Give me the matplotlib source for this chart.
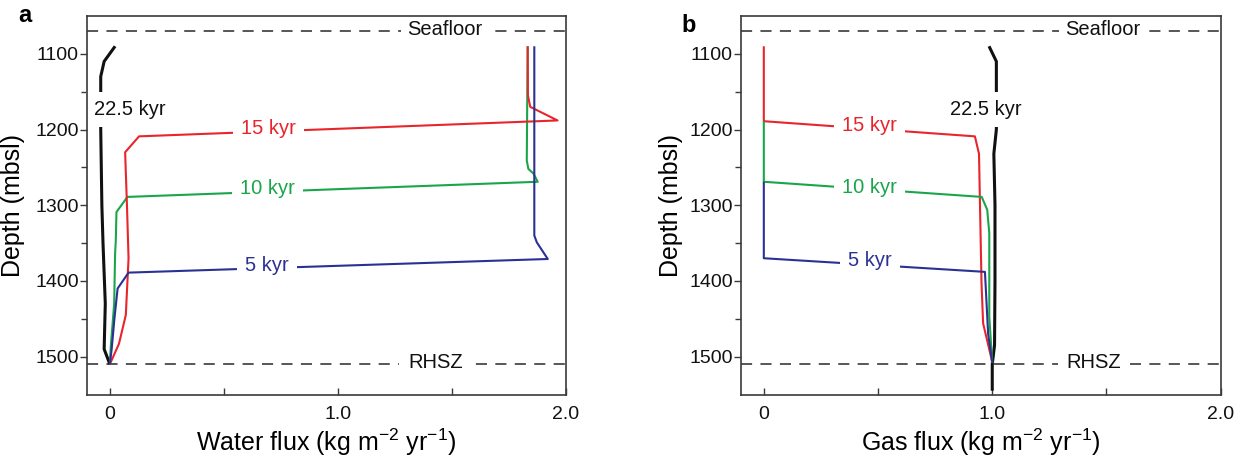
import matplotlib
matplotlib.use('Agg')
import matplotlib.pyplot as plt
import numpy as np

plt.rcParams['font.family'] = ['Liberation Sans', 'DejaVu Sans']
plt.rcParams['mathtext.fontset'] = 'custom'
plt.rcParams['mathtext.rm'] = 'Liberation Sans'
plt.rcParams['mathtext.it'] = 'Liberation Sans:italic'
plt.rcParams['lines.scale_dashes'] = False

RED = '#E8252B'
GREEN = '#1BA54A'
BLUE = '#2B3192'
BLACK = '#111111'
GREY = '#3A3A3A'

SEAFLOOR = 1070
RHSZ = 1510

# --- panel a: water flux profiles (x = flux, y = depth) ---
wa_225_x = [0.023, -0.025, -0.04, -0.04, -0.035, -0.03, -0.02, -0.025, 0.0]
wa_225_y = [1090, 1110, 1130, 1200, 1300, 1350, 1430, 1490, 1510]
wa_15_x = [1.832, 1.833, 1.843, 1.963, 0.128, 0.067, 0.075, 0.082, 0.07, 0.04, 0.0]
wa_15_y = [1090, 1155, 1170, 1188, 1209, 1230, 1300, 1370, 1445, 1483, 1510]
wa_10_x = [1.832, 1.83, 1.828, 1.835, 1.857, 1.876, 0.077, 0.029, 0.026, 0.023, 0.019, 0.004, 0.0]
wa_10_y = [1090, 1160, 1241, 1252, 1258, 1269, 1289, 1309, 1347, 1364, 1430, 1487, 1510]
wa_5_x = [1.861, 1.861, 1.872, 1.92, 0.082, 0.034, 0.02, 0.008, 0.0]
wa_5_y = [1090, 1340, 1349, 1371, 1389, 1410, 1450, 1490, 1510]

# --- panel b: gas flux profiles ---
gb_225_x = [0.986, 1.018, 1.018, 1.007, 1.012, 1.012, 1.01, 1.0, 1.0]
gb_225_y = [1090, 1110, 1200, 1232, 1300, 1400, 1485, 1510, 1545]
gb_15_x = [0.0, 0.0, 0.924, 0.942, 0.953, 0.96, 0.996, 1.0]
gb_15_y = [1090, 1189, 1209, 1232, 1403, 1456, 1502, 1508]
gb_10_x = [0.0, 0.0, 0.954, 0.978, 0.987, 0.987, 1.0]
gb_10_y = [1189, 1269, 1289, 1306, 1337, 1447, 1508]
gb_5_x = [0.0, 0.0, 0.968, 0.982, 1.0]
gb_5_y = [1269, 1370, 1388, 1470, 1508]

# label positions (x, depth)
labels_a = [('22.5 kyr', 0.087, 1173, BLACK), ('15 kyr', 0.694, 1199, RED),
            ('10 kyr', 0.69, 1278, GREEN), ('5 kyr', 0.69, 1380, BLUE)]
labels_b = [('22.5 kyr', 0.973, 1173, BLACK), ('15 kyr', 0.463, 1195, RED),
            ('10 kyr', 0.463, 1276, GREEN), ('5 kyr', 0.464, 1373, BLUE)]
seafloor_lbl_x = [1.47, 1.482]
rhsz_lbl_x = [1.427, 1.445]

fig = plt.figure(figsize=(12.47, 4.62), dpi=100)
ax_a = fig.add_axes([0.0698, 0.1461, 0.3841, 0.8193])
ax_b = fig.add_axes([0.5942, 0.1461, 0.3847, 0.8193])

series_a = [(wa_225_x, wa_225_y, BLACK, 2.2), (wa_10_x, wa_10_y, GREEN, 1.5),
            (wa_15_x, wa_15_y, RED, 1.5), (wa_5_x, wa_5_y, BLUE, 1.5)]
series_b = [(gb_225_x, gb_225_y, BLACK, 2.2), (gb_15_x, gb_15_y, RED, 1.5),
            (gb_10_x, gb_10_y, GREEN, 1.5), (gb_5_x, gb_5_y, BLUE, 1.5)]

for i, (ax, series, labels) in enumerate([(ax_a, series_a, labels_a), (ax_b, series_b, labels_b)]):
    for xs, ys, c, lw in series:
        ax.plot(xs, ys, color=c, lw=lw, solid_capstyle='butt', zorder=3)

    # boundary lines with their labels sitting in a gap
    ax.axhline(SEAFLOOR, color=GREY, lw=1.2, linestyle=(0, (8, 6)), zorder=2)
    ax.axhline(RHSZ, color=GREY, lw=1.2, linestyle=(0, (8, 6)), zorder=2)
    ax.text(seafloor_lbl_x[i], SEAFLOOR - 2, 'Seafloor', fontsize=14.5, ha='center', va='center',
            color=BLACK, zorder=5, bbox=dict(boxstyle='square,pad=0.3', fc='white', ec='none'))
    ax.text(rhsz_lbl_x[i], RHSZ - 2, 'RHSZ', fontsize=14.5, ha='center', va='center',
            color=BLACK, zorder=5, bbox=dict(boxstyle='square,pad=0.45', fc='white', ec='none'))

    for txt, x, y, c in labels:
        ax.text(x, y, txt, fontsize=14.5, color=c, ha='center', va='center', zorder=5,
                bbox=dict(boxstyle='square,pad=0.4', fc='white', ec='none'))

    ax.set_xlim(-0.1, 2.0)
    ax.set_ylim(1550, 1050)
    ax.set_xticks([0, 1.0, 2.0])
    ax.set_xticklabels(['0', '1.0', '2.0'])
    ax.set_xticks([0.5, 1.5], minor=True)
    ax.set_yticks([1100, 1200, 1300, 1400, 1500])
    ax.set_yticks([1150, 1250, 1350, 1450], minor=True)
    ax.tick_params(axis='x', which='both', direction='in', length=5, width=1.0,
                   labelsize=14, pad=8, colors=GREY, labelcolor=BLACK)
    ax.tick_params(axis='y', which='major', direction='out', length=5, width=1.0,
                   labelsize=14, pad=1, colors=GREY, labelcolor=BLACK)
    ax.tick_params(axis='y', which='minor', direction='out', length=4, width=1.0, colors=GREY)
    for sp in ax.spines.values():
        sp.set_color(GREY)
        sp.set_linewidth(1.2)
        sp.set_zorder(10)
    ax.set_ylabel('Depth (mbsl)', fontsize=18)

ax_a.yaxis.set_label_coords(-0.129, 0.5)
ax_b.yaxis.set_label_coords(-0.121, 0.5)
ax_a.set_xlabel('Water flux (kg m$^{-2}$ yr$^{-1}$)', fontsize=18, labelpad=3)
ax_b.set_xlabel('Gas flux (kg m$^{-2}$ yr$^{-1}$)', fontsize=18, labelpad=3)

fig.text(18 / 1247, 1 - 21.7 / 462, 'a', fontsize=17, fontweight='bold', va='baseline')
fig.text(681 / 1247, 1 - 31.7 / 462, 'b', fontsize=17, fontweight='bold', va='baseline')

fig.savefig('out.png', dpi=100)
